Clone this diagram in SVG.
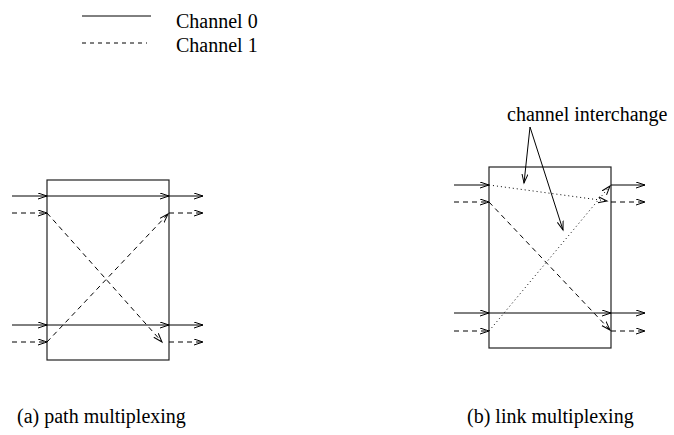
<svg xmlns="http://www.w3.org/2000/svg" width="674" height="435" viewBox="0 0 674 435">
<style>
  text { font-family: "Liberation Serif", "Times New Roman", serif; font-size: 20px; fill: #000; }
  .ln { stroke: #000; stroke-width: 1; fill: none; }
  .box { stroke: #222; stroke-width: 1.2; fill: none; }
  .dash { stroke-dasharray: 5 4; }
  .dot { stroke-dasharray: 1 3; }
  .arr { marker-end: url(#ah); }
</style>
<defs>
  <marker id="ah" markerUnits="userSpaceOnUse" markerWidth="12" markerHeight="10" refX="9" refY="3.5" orient="auto">
    <path d="M0,0.5 L9,3.5 L0,6.5" fill="none" stroke="#000" stroke-width="1"/>
  </marker>
</defs>
<g id="legend">
  <line class="ln" x1="82" y1="16" x2="151" y2="16"/>
  <line class="ln" x1="82" y1="43" x2="147" y2="43" stroke-dasharray="4 4"/>
  <text x="176" y="28">Channel 0</text>
  <text x="176" y="52">Channel 1</text>
</g>
<g id="switch-a">
  <rect class="box" x="47" y="180" width="122" height="180"/>
  <text x="17" y="423">(a) path multiplexing</text>
</g>
<g id="switch-b">
  <rect class="box" x="489" y="167" width="122" height="181"/>
  <text x="467" y="423">(b) link multiplexing</text>
</g>
<g id="label-interchange">
  <text x="507" y="121">channel interchange</text>
</g>
<g id="connectors">
  <!-- panel a -->
  <line class="ln arr" x1="12" y1="196" x2="47" y2="196"/>
  <line class="ln arr" x1="47" y1="196" x2="169" y2="196"/>
  <line class="ln arr" x1="169" y1="196" x2="203" y2="196"/>
  <line class="ln dash arr" x1="12" y1="213" x2="47" y2="213"/>
  <line class="ln dash arr" x1="169" y1="213" x2="203" y2="213"/>
  <line class="ln arr" x1="12" y1="325" x2="47" y2="325"/>
  <line class="ln arr" x1="47" y1="325" x2="169" y2="325"/>
  <line class="ln arr" x1="169" y1="325" x2="203" y2="325"/>
  <line class="ln dash arr" x1="12" y1="342" x2="47" y2="342"/>
  <line class="ln dash arr" x1="169" y1="342" x2="203" y2="342"/>
  <line class="ln dash arr" x1="47" y1="213" x2="162" y2="342"/>
  <line class="ln dash arr" x1="47" y1="342" x2="168" y2="214"/>
  <!-- panel b -->
  <line class="ln arr" x1="454" y1="185" x2="489" y2="185"/>
  <line class="ln arr" x1="611" y1="185" x2="645" y2="185"/>
  <line class="ln dash arr" x1="454" y1="202" x2="489" y2="202"/>
  <line class="ln dash arr" x1="611" y1="202" x2="645" y2="202"/>
  <line class="ln arr" x1="454" y1="313" x2="489" y2="313"/>
  <line class="ln arr" x1="489" y1="313" x2="611" y2="313"/>
  <line class="ln arr" x1="611" y1="313" x2="645" y2="313"/>
  <line class="ln dash arr" x1="454" y1="331" x2="489" y2="331"/>
  <line class="ln dash arr" x1="611" y1="331" x2="645" y2="331"/>
  <line class="ln dot arr" x1="489" y1="185" x2="607" y2="201"/>
  <line class="ln dot arr" x1="489" y1="331" x2="610" y2="186"/>
  <line class="ln dash arr" x1="489" y1="202" x2="610" y2="330"/>
  <!-- callouts -->
  <line class="ln arr" x1="530" y1="127" x2="524" y2="183"/>
  <line class="ln arr" x1="530" y1="127" x2="563" y2="230"/>
</g>
</svg>
